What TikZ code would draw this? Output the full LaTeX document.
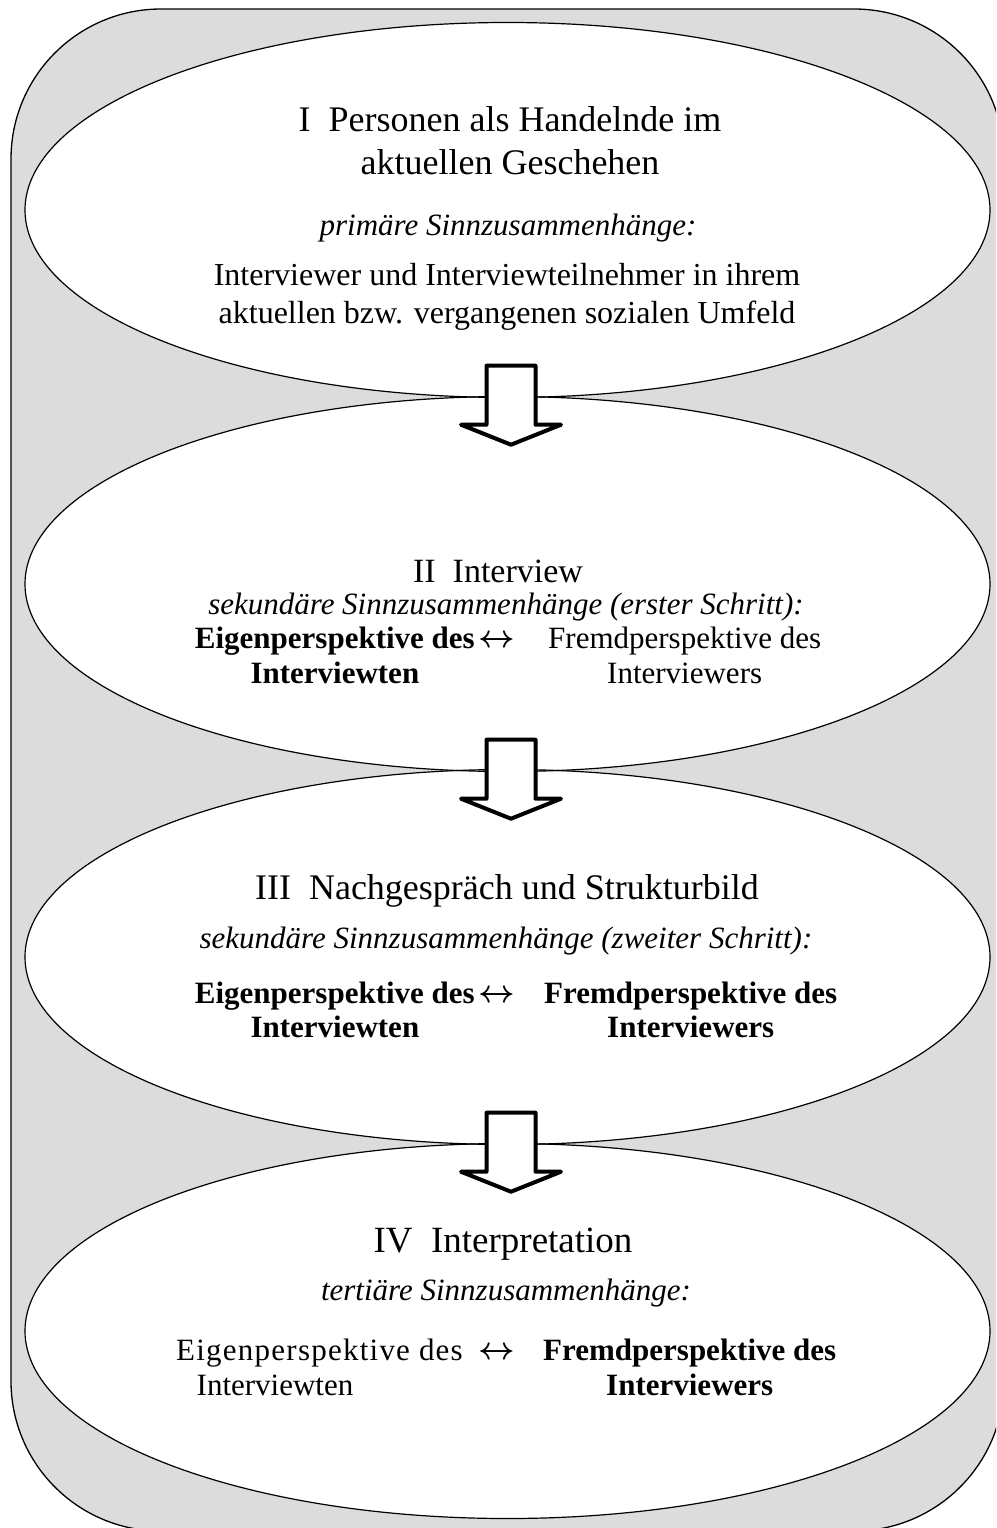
\documentclass[tikz,border=0pt]{standalone}
\usepackage{fontspec}
\setmainfont{Liberation Serif}
\usetikzlibrary{shapes.geometric,calc}
\definecolor{panel}{RGB}{220,220,220}
\tikzset{
  stage/.style={ellipse, fill=white,
    minimum width=965pt, minimum height=375pt, inner sep=0pt},
  rim/.style={draw=black, line width=1.2pt},
  head/.style={anchor=base, inner sep=0pt, font=\fontsize{36}{40}\selectfont},
  body/.style={anchor=base, inner sep=0pt, font=\fontsize{31}{36}\selectfont},
  wide/.style={anchor=base, inner sep=0pt, font=\fontsize{32}{36}\selectfont},
  note/.style={anchor=base, inner sep=0pt, font=\fontsize{31}{36}\selectfont\itshape},
  leftcol/.style={body, anchor=base east},
  rightcol/.style={body, anchor=base west},
  swap/.style={anchor=base, inner sep=0pt, font=\fontsize{24.88}{30}\selectfont\boldmath},
  blockdown/.pic={
    \draw[line width=4pt, line join=round, fill=white]
      (-24.5,0) -- (24.5,0) -- (24.5,59) -- (50,59) -- (0,79)
      -- (-50,59) -- (-24.5,59) -- cycle;
  }
}
\newcommand{\twoway}{\raisebox{0pt}[13pt][0pt]{\scalebox{1.28}{$\leftrightarrow$}}}
\begin{document}
\begin{tikzpicture}[x=1pt, y=-1pt]
  \useasboundingbox (0,0) rectangle (996,1528);
  \clip (0,0) rectangle (996,1528);

  % grey frame
  \draw[fill=panel, line width=1.3pt, rounded corners=150pt] (11,9) rectangle (1004,1531);

  % the four stages: white fills first, outlines on top
  \node[stage] (e1) at (507.5,210) {};
  \node[stage] (e2) at (507.5,584) {};
  \node[stage] (e3) at (507.5,957) {};
  \node[stage] (e4) at (507.5,1331) {};
  \foreach \e in {e1,e2,e3,e4}
    \draw[rim] (\e.center) ellipse [x radius=482.5, y radius=187.5];

  % block arrows between the stages
  \pic at ($(e1.south)+(3.5,-32)$) {blockdown};
  \pic at ($(e2.south)+(3.5,-32)$) {blockdown};
  \pic at ($(e3.south)+(3.5,-32)$) {blockdown};

  % stage I
  \node[head] (t1a) at (510,131) {I\ \ Personen als Handelnde im};
  \node[head] (t1b) at (510,174) {aktuellen Geschehen};
  \node[note] (t1c) at (508,235) {primäre Sinnzusammenhänge:};
  \node[wide] (t1d) at (507,285) {Interviewer und Interviewteilnehmer in ihrem};
  \node[wide] (t1e) at (507,323) {aktuellen bzw. vergangenen sozialen Umfeld};

  % stage II
  \node[head, font=\fontsize{34}{40}\selectfont] (t2a) at (498,582) {II\ \ Interview};
  \node[note] (t2b) at (506,614) {sekundäre Sinnzusammenhänge (erster Schritt):};
  \node[leftcol] (t2l) at (475,648) {\bfseries Eigenperspektive des};
  \node[swap] (t2s) at (497,647) {\twoway};
  \node[rightcol] (t2r) at (548,648) {Fremdperspektive des};
  \node[body] (t2l2) at ($(t2l.base)+(0,35)$) {\bfseries Interviewten};
  \node[body] (t2r2) at ($(t2r.base)+(0,35)$) {Interviewers};

  % stage III
  \node[head] (t3a) at (507,899) {III\ \ Nachgespräch und Strukturbild};
  \node[note] (t3b) at (506,948) {sekundäre Sinnzusammenhänge (zweiter Schritt):};
  \node[leftcol] (t3l) at (475,1003) {\bfseries Eigenperspektive des};
  \node[swap] (t3s) at (497,1002) {\twoway};
  \node[rightcol] (t3r) at (544,1003) {\bfseries Fremdperspektive des};
  \node[body] (t3l2) at ($(t3l.base)+(0,34)$) {\bfseries Interviewten};
  \node[body] (t3r2) at ($(t3r.base)+(0,34)$) {\bfseries Interviewers};

  % stage IV
  \node[head, font=\fontsize{37}{40}\selectfont] (t4a) at (503,1252) {IV\ \ Interpretation};
  \node[note] (t4b) at (506,1300) {tertiäre Sinnzusammenhänge:};
  \node[leftcol] (t4l) at (463,1360) {\addfontfeatures{LetterSpace=4}Eigenperspektive des};
  \node[swap] (t4s) at (497,1359) {\twoway};
  \node[rightcol] (t4r) at (543,1360) {\bfseries Fremdperspektive des};
  \node[body] (t4l2) at (275,1395) {Interviewten};
  \node[body] (t4r2) at ($(t4r.base)+(0,35)$) {\bfseries Interviewers};
\end{tikzpicture}
\end{document}
